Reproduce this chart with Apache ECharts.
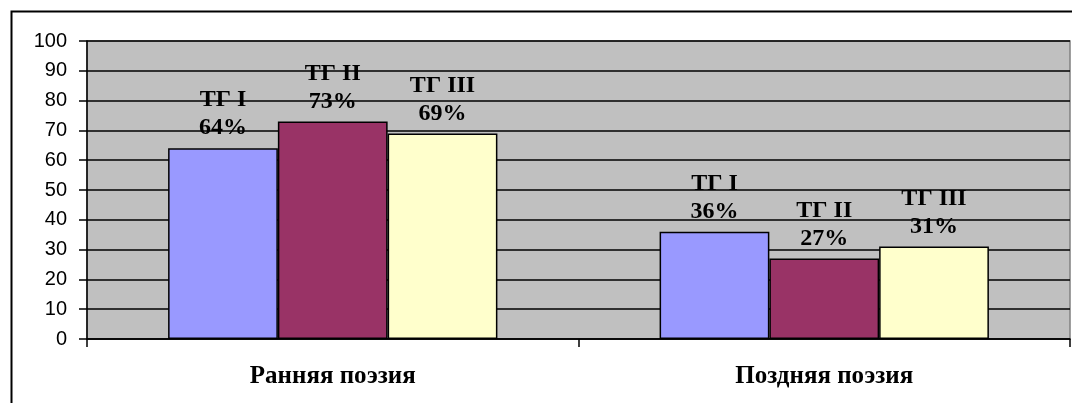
<!DOCTYPE html>
<html>
<head>
<meta charset="utf-8">
<script src="https://cdn.jsdelivr.net/npm/echarts@6/dist/echarts.min.js"></script>
<style>
  html, body { margin: 0; padding: 0; background: #fff; }
  #chart { width: 1072px; height: 403px; }
</style>
</head>
<body>
<div id="chart"></div>
<script>
// periods of the poetry
const categories = ['Ранняя поэзия', 'Поздняя поэзия']
// test groups
const seriesNames = ['ТГ I', 'ТГ II', 'ТГ III']
const tg1 = [64, 36]
const tg2 = [73, 27]
const tg3 = [69, 31]
const yTicks = { min: 0, max: 100, step: 10 }

const colors = ['#9999FF', '#993366', '#FFFFCC']
const serif = '"Liberation Serif", "Times New Roman", serif'

const chart = echarts.init(document.getElementById('chart'))

const makeSeries = (name, data, color) => ({
  name: name,
  type: 'bar',
  data: data,
  barGap: '0%',
  barCategoryGap: '33%',
  itemStyle: {
    color: color,
    borderColor: '#000',
    borderWidth: 1.5
  },
  label: {
    show: true,
    position: 'top',
    distance: 6,
    formatter: '{a}\n{c}%',
    color: '#000',
    fontFamily: serif,
    fontWeight: 'bold',
    fontSize: 24,
    lineHeight: 28
  }
})

chart.setOption({
  animation: false,
  backgroundColor: '#fff',
  graphic: [
    {
      type: 'rect',
      left: 9,
      top: 9,
      z: -10,
      shape: { width: 1200, height: 500 },
      style: { fill: 'none', stroke: '#000', lineWidth: 2 }
    }
  ],
  grid: {
    left: 87,
    top: 41,
    right: 2,
    bottom: 64,
    show: true,
    backgroundColor: '#C0C0C0',
    borderColor: '#808080',
    borderWidth: 1.5
  },
  xAxis: {
    type: 'category',
    data: categories,
    axisLine: { lineStyle: { color: '#000', width: 1.5 } },
    axisTick: { show: true, length: 8, lineStyle: { color: '#000', width: 1.5 } },
    axisLabel: {
      margin: 25,
      color: '#000',
      fontFamily: serif,
      fontWeight: 'bold',
      fontSize: 25
    }
  },
  yAxis: {
    type: 'value',
    min: yTicks.min,
    max: yTicks.max,
    interval: yTicks.step,
    axisLine: { show: true, lineStyle: { color: '#000', width: 1.5 } },
    axisTick: { show: true, length: 8, lineStyle: { color: '#000', width: 1.5 } },
    axisLabel: {
      margin: 20,
      color: '#000',
      fontFamily: '"Liberation Sans", Arial, sans-serif',
      fontSize: 20
    },
    splitLine: { show: true, lineStyle: { color: '#000', width: 1.5 } }
  },
  series: [
    makeSeries(seriesNames[0], tg1, colors[0]),
    makeSeries(seriesNames[1], tg2, colors[1]),
    makeSeries(seriesNames[2], tg3, colors[2])
  ]
})
</script>
</body>
</html>
